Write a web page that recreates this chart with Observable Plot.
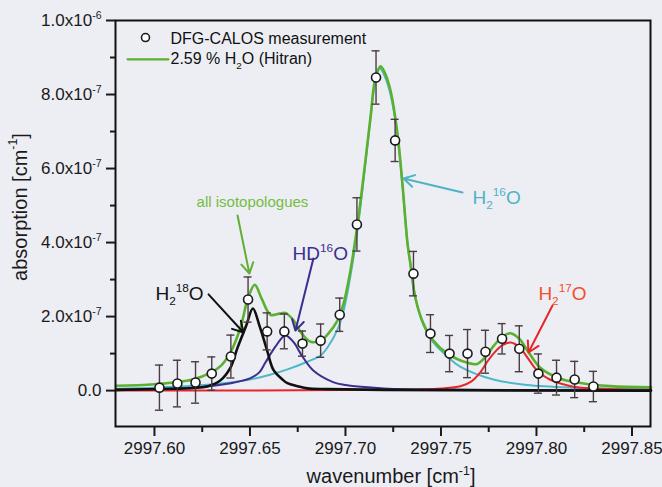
<!DOCTYPE html>
<html>
<head>
<meta charset="utf-8">
<script src="https://cdn.jsdelivr.net/npm/d3@7"></script>
<script src="https://cdn.jsdelivr.net/npm/@observablehq/plot@0.6"></script>
<style>
  html, body { margin: 0; padding: 0; background: #eceef4; }
  #chart { width: 662px; height: 487px; }
</style>
</head>
<body>
<div id="chart"></div>
<script>
// ---------- axis ticks ----------
const wnTicks = [2997.60, 2997.65, 2997.70, 2997.75, 2997.80, 2997.85];
const wnMinorTicks = [2997.625, 2997.675, 2997.725, 2997.775, 2997.825];
const absTicks = [0, 2e-7, 4e-7, 6e-7, 8e-7, 1e-6];
const absTickLabels = ["0.0", "2.0x10^{-7}", "4.0x10^{-7}", "6.0x10^{-7}", "8.0x10^{-7}", "1.0x10^{-6}"];
const absMinorTicks = [1e-7, 3e-7, 5e-7, 7e-7, 9e-7];

// ---------- DFG-CALOS measurement (absorption in units of 1e-7 cm^-1) ----------
const measWn  = [2997.6026, 2997.612, 2997.6215, 2997.630, 2997.640, 2997.649, 2997.659, 2997.668, 2997.6775,
                 2997.687, 2997.697, 2997.706, 2997.716, 2997.726, 2997.7356, 2997.7445, 2997.7545, 2997.7639,
                 2997.7733, 2997.782, 2997.791, 2997.801, 2997.8105, 2997.820, 2997.8298];
const measAbs = [0.08, 0.19, 0.22, 0.46, 0.92, 2.46, 1.60, 1.60, 1.27,
                 1.35, 2.05, 4.49, 8.46, 6.76, 3.16, 1.54, 1.00, 1.00,
                 1.05, 1.40, 1.13, 0.46, 0.35, 0.30, 0.11];
const measErr = [0.61, 0.63, 0.56, 0.45, 0.58, 0.61, 0.50, 0.47, 0.34,
                 0.45, 0.45, 0.72, 0.72, 0.57, 0.60, 0.51, 0.49, 0.65,
                 0.58, 0.41, 0.62, 0.53, 0.47, 0.49, 0.41];

// ---------- HITRAN curves (absorption in units of 1e-7 cm^-1) ----------
const totalWn  = [2997.58, 2997.60, 2997.62, 2997.63, 2997.635, 2997.64, 2997.645, 2997.649, 2997.6525, 2997.656,
                  2997.6607, 2997.6655, 2997.6685, 2997.6728, 2997.677, 2997.6817, 2997.687, 2997.691, 2997.6958,
                  2997.699, 2997.7026, 2997.7063, 2997.7094, 2997.7131, 2997.7155, 2997.7183, 2997.7205, 2997.7236,
                  2997.7272, 2997.7298, 2997.7325, 2997.734, 2997.7366, 2997.7408, 2997.746, 2997.7534, 2997.7639,
                  2997.769, 2997.7735, 2997.7775, 2997.782, 2997.7864, 2997.791, 2997.7953, 2997.802, 2997.8126,
                  2997.8215, 2997.8387, 2997.86];
const totalAbs = [0.13, 0.17, 0.30, 0.50, 0.68, 1.05, 1.70, 2.50, 2.86, 2.50,
                  2.05, 2.08, 2.10, 1.90, 1.55, 1.32, 1.35, 1.54, 1.89,
                  2.35, 3.24, 4.49, 5.76, 7.38, 8.40, 8.76, 8.60, 8.10,
                  6.95, 5.60, 3.97, 3.43, 2.51, 1.81, 1.35, 1.00, 0.75,
                  0.72, 0.92, 1.20, 1.45, 1.55, 1.40, 1.08, 0.62, 0.32,
                  0.22, 0.12, 0.09];

const h218oWn  = [2997.58, 2997.61, 2997.62, 2997.628, 2997.6346, 2997.6398, 2997.6435, 2997.648, 2997.6515,
                  2997.655, 2997.659, 2997.6623, 2997.667, 2997.6696, 2997.675, 2997.68, 2997.69, 2997.72, 2997.86];
const h218oAbs = [0.02, 0.05, 0.07, 0.12, 0.28, 0.62, 1.16, 1.75, 2.22,
                  1.75, 1.08, 0.56, 0.30, 0.20, 0.12, 0.06, 0.04, 0.02, 0.0];

const hd16oWn  = [2997.58, 2997.62, 2997.64, 2997.65, 2997.655, 2997.658, 2997.6635, 2997.6685, 2997.673,
                  2997.6765, 2997.683, 2997.6935, 2997.70, 2997.72, 2997.76, 2997.86];
const hd16oAbs = [0.03, 0.08, 0.20, 0.33, 0.50, 0.75, 1.20, 1.49, 1.30,
                  1.00, 0.55, 0.23, 0.15, 0.06, 0.02, 0.0];

const h216oWn  = [2997.58, 2997.60, 2997.62, 2997.64, 2997.65, 2997.66, 2997.67, 2997.68, 2997.687, 2997.691,
                  2997.6958, 2997.699, 2997.7026, 2997.7063, 2997.7094, 2997.7131, 2997.7155, 2997.718, 2997.7205,
                  2997.7236, 2997.7272, 2997.7298, 2997.7325, 2997.734, 2997.7366, 2997.7408, 2997.746, 2997.7534,
                  2997.76, 2997.7775, 2997.795, 2997.82, 2997.86];
const h216oAbs = [0.05, 0.08, 0.13, 0.22, 0.30, 0.42, 0.58, 0.78, 0.95, 1.20,
                  1.65, 2.15, 3.10, 4.35, 5.65, 7.35, 8.30, 8.70, 8.50,
                  8.00, 6.90, 5.55, 3.95, 3.40, 2.50, 1.78, 1.30, 0.92,
                  0.65, 0.30, 0.15, 0.08, 0.05];

const h217oWn  = [2997.58, 2997.72, 2997.75, 2997.7602, 2997.766, 2997.7707, 2997.7745, 2997.7775, 2997.782,
                  2997.7864, 2997.791, 2997.7953, 2997.799, 2997.802, 2997.807, 2997.8126, 2997.82, 2997.83, 2997.86];
const h217oAbs = [0.0, 0.02, 0.06, 0.12, 0.25, 0.50, 0.80, 1.00, 1.22,
                  1.30, 1.18, 0.89, 0.62, 0.46, 0.30, 0.19, 0.10, 0.06, 0.02];

// ---------- annotations (positions in data units: wavenumber, 1e-7 cm^-1) ----------
const annotations = [
  {text: "all isotopologues", x: 2997.6513, y: 5.08, color: "#74bd3f", size: 15, anchor: "middle"},
  {text: "H_{2}^{18}O",       x: 2997.6005, y: 2.62, color: "#111111", size: 19, anchor: "start"},
  {text: "HD^{16}O",          x: 2997.6723, y: 3.70, color: "#3b2e8c", size: 19, anchor: "start"},
  {text: "H_{2}^{16}O",       x: 2997.7665, y: 5.22, color: "#4fb3c4", size: 19, anchor: "start"},
  {text: "H_{2}^{17}O",       x: 2997.8010, y: 2.62, color: "#f0502a", size: 19, anchor: "start"}
];
const arrows = [
  {x1: 2997.6435, y1: 4.73, x2: 2997.6497, y2: 3.16, color: "#5fae36"},
  {x1: 2997.6283, y1: 2.60, x2: 2997.6466, y2: 1.57, color: "#111111"},
  {x1: 2997.6832, y1: 3.57, x2: 2997.6738, y2: 1.62, color: "#3b2e8c"},
  {x1: 2997.7613, y1: 5.35, x2: 2997.7304, y2: 5.73, color: "#4fb3c4"},
  {x1: 2997.8084, y1: 2.30, x2: 2997.7958, y2: 1.03, color: "#e8262a"}
];
const legendItems = [
  {label: "DFG-CALOS measurement", x: 2997.6084, y: 9.51},
  {label: "2.59 % H_{2}O (Hitran)", x: 2997.6084, y: 8.95}
];
const legendDot = {x: 2997.5953, y: 9.54};
const legendLine = [{x: 2997.5859, y: 8.95}, {x: 2997.6073, y: 8.95}];

// ---------- build tables ----------
const U = 1e-7;
const meas = measWn.map((wn, i) => ({wn, abs: measAbs[i] * U, lo: (measAbs[i] - measErr[i]) * U, hi: (measAbs[i] + measErr[i]) * U}));
const capHalf = 0.0021;
const caps = meas.flatMap(d => [
  {y: d.lo, x1: d.wn - capHalf, x2: d.wn + capHalf},
  {y: d.hi, x1: d.wn - capHalf, x2: d.wn + capHalf}
]);
const toRows = (wns, abss) => wns.map((wn, i) => ({wn, abs: abss[i] * U}));
const curves = [
  {rows: toRows(h216oWn, h216oAbs), color: "#4fb8c8", width: 2},
  {rows: toRows(h217oWn, h217oAbs), color: "#e8262a", width: 2},
  {rows: toRows(hd16oWn, hd16oAbs), color: "#3b2e8c", width: 2},
  {rows: toRows(totalWn, totalAbs), color: "#5cb030", width: 2.6},
  {rows: toRows(h218oWn, h218oAbs), color: "#111111", width: 2.6}
];
const labelMap = new Map(absTicks.map((t, i) => [t, absTickLabels[i]]));

const marks = [
  ...curves.map(c => Plot.line(c.rows, {x: "wn", y: "abs", stroke: c.color, strokeWidth: c.width, curve: "catmull-rom"})),
  Plot.frame({stroke: "#111", strokeWidth: 2}),
  Plot.axisX(wnTicks, {tickSize: 10, tickPadding: 5, tickFormat: d => d.toFixed(2), fontSize: 17, strokeWidth: 2, label: null}),
  Plot.axisX(wnMinorTicks, {tickSize: 6, tickFormat: () => "", strokeWidth: 2, label: null}),
  Plot.axisY(absTicks, {tickSize: 9, tickPadding: 5, tickFormat: d => labelMap.get(d), fontSize: 17, strokeWidth: 2, label: null}),
  Plot.axisY(absMinorTicks, {tickSize: 5, tickFormat: () => "", strokeWidth: 2, label: null}),
  Plot.ruleX(meas, {x: "wn", y1: "lo", y2: "hi", stroke: "#4a3c40", strokeWidth: 1.4}),
  Plot.ruleY(caps, {y: "y", x1: "x1", x2: "x2", stroke: "#4a3c40", strokeWidth: 1.4}),
  Plot.dot(meas, {x: "wn", y: "abs", r: 4.5, stroke: "#1a1a1a", fill: "white", strokeWidth: 1.6}),
  ...arrows.map(a => Plot.arrow([a], {x1: "x1", y1: d => d.y1 * U, x2: "x2", y2: d => d.y2 * U, stroke: a.color, strokeWidth: 2, headLength: 9})),
  ...annotations.map(a => Plot.text([a], {x: "x", y: d => d.y * U, text: "text", fill: a.color, fontSize: a.size, textAnchor: a.anchor})),
  Plot.dot([legendDot], {x: "x", y: d => d.y * U, r: 4, stroke: "#1a1a1a", fill: "white", strokeWidth: 1.6}),
  Plot.line(legendLine, {x: "x", y: d => d.y * U, stroke: "#5cb030", strokeWidth: 2.2}),
  Plot.text(legendItems, {x: "x", y: d => d.y * U, text: "label", fill: "#111", fontSize: 16, textAnchor: "start"})
];

const plot = Plot.plot({
  width: 662,
  height: 487,
  marginLeft: 115,
  marginRight: 12,
  marginTop: 20,
  marginBottom: 61,
  x: {domain: [2997.5796, 2997.8597]},
  y: {domain: [-0.97e-7, 1.0e-6]},
  style: {background: "#eceef4", fontFamily: "'Liberation Sans', Arial, sans-serif", color: "#1a1a1a"},
  marks
});
document.getElementById("chart").appendChild(plot);

// ---------- axis titles ----------
const svg = d3.select(plot);
svg.append("text")
  .attr("transform", "translate(22,207) rotate(-90)")
  .attr("text-anchor", "middle").attr("dominant-baseline", "middle")
  .attr("font-size", 20).attr("fill", "#1a1a1a")
  .text("absorption [cm^{-1}]");
svg.append("text")
  .attr("x", 391).attr("y", 483)
  .attr("text-anchor", "middle")
  .attr("font-size", 20).attr("fill", "#1a1a1a")
  .text("wavenumber [cm^{-1}]");

// ---------- rich text: ^{...} superscript, _{...} subscript ----------
function richify(el) {
  const s = el.textContent;
  if (!/[\^_]\{/.test(s)) return;
  const fs = parseFloat(getComputedStyle(el).fontSize) || 16;
  const parts = s.split(/(\^\{[^}]*\}|_\{[^}]*\})/).filter(p => p.length);
  while (el.firstChild) el.removeChild(el.firstChild);
  let cur = 0;
  for (const p of parts) {
    let txt = p, target = 0, small = false;
    if (p.startsWith("^{")) { txt = p.slice(2, -1); target = -0.42 * fs; small = true; }
    else if (p.startsWith("_{")) { txt = p.slice(2, -1); target = 0.28 * fs; small = true; }
    const t = document.createElementNS("http://www.w3.org/2000/svg", "tspan");
    t.setAttribute("dy", (target - cur).toFixed(2));
    if (small) t.setAttribute("font-size", (fs * 0.62).toFixed(1));
    t.textContent = txt;
    el.appendChild(t);
    cur = target;
  }
}
plot.querySelectorAll("text").forEach(richify);
</script>
</body>
</html>
